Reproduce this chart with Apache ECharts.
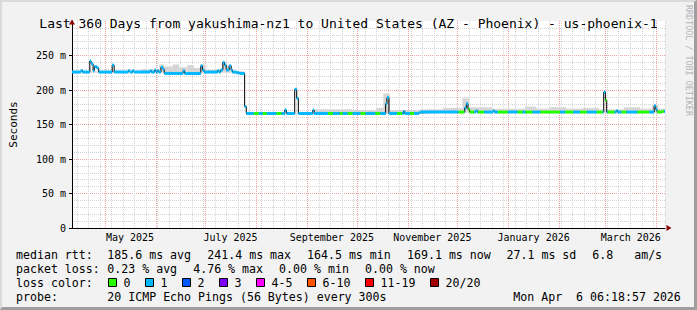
<!DOCTYPE html>
<html><head><meta charset="utf-8">
<script src="https://cdn.jsdelivr.net/npm/echarts@6/dist/echarts.min.js"></script>
<style>
html,body{margin:0;padding:0;background:#f2f2f2;}
#wrap{position:relative;width:697px;height:310px;overflow:hidden;}
#chart{position:absolute;left:0;top:0;width:697px;height:310px;}
#frame{position:absolute;left:0;top:0;width:697px;height:310px;box-sizing:border-box;border-top:2px solid #dadada;border-left:2px solid #dadada;border-right:3px solid #9e9e9e;border-bottom:3px solid #9e9e9e;pointer-events:none;}
</style></head>
<body><div id="wrap"><div id="chart"></div><div id="frame"></div></div>
<script>
// ---------------- data ----------------
const titleText = 'Last 360 Days from yakushima-nz1 to United States (AZ - Phoenix) - us-phoenix-1';
const startMs = Date.UTC(2025, 3, 11, 6, 18, 57);   // window start (360 days before end)
const spanDays = 360;

// median RTT (ms); each value holds from its day (days since window start) until the next
const medianDay = [0, 5.4, 6.4, 10.8, 11.6, 12.8, 13.6, 15.0, 16.2, 24.4, 25.6, 34.2, 35.2, 36.8, 37.6,
  47.4, 48.2, 50.2, 51.0, 51.8, 52.6, 54.0, 55.2, 56.0, 67.4, 68.4, 78.2, 79.2, 80.2, 88.4, 89.2, 90.2,
  91.6, 92.6, 93.6, 95.4, 96.6, 97.4, 99.8, 101.6, 104.8, 105.8, 129.2, 130.2, 135.2, 136.4, 137.4,
  146.2, 147.0, 190.4, 191.2, 192.4, 201.2, 202.0, 210.4, 211.4, 238.4, 239.4, 240.4, 241.4, 245.2,
  246.0, 255.6, 256.4, 322.8, 323.8, 324.6, 330.4, 331.2, 353.4, 354.4, 355.2, 358.0, 360];
const medianMs = [226, 228, 226, 242, 238, 228, 234, 232, 226, 236, 226, 228, 226, 228, 226,
  228, 226, 229, 226, 228, 226, 233, 230, 224, 228, 224, 235, 229, 226, 228, 226, 229,
  240, 236, 229, 235, 229, 226, 225, 224, 176, 166, 171, 166, 201, 188, 166,
  171, 166, 180, 189, 166, 169, 166, 167, 168, 174, 180, 172, 168, 170,
  168, 170, 168, 197, 185, 168, 170, 168, 177, 172, 168, 169, 169];

// stretches (days) where the median was drawn with 0 lost pings; the rest shows 1 lost ping
const zeroLossFrom = [110.4, 115.8, 124.2, 155.4, 162.6, 167.4, 175.2, 184.2, 197.4, 205.2, 234.6, 240.6,
  246.6, 258.6, 270.6, 275.4, 284.4, 299.4, 308.4, 318.6, 323.8, 325.2, 333.6, 343.2, 355.2];
const zeroLossTo = [113.4, 118.2, 127.2, 158.4, 164.4, 170.4, 178.2, 187.2, 200.4, 207.6, 238.2, 244.2,
  250.2, 264.6, 273.6, 279.6, 296.4, 304.2, 312.6, 322.2, 324.6, 329.4, 336.6, 350.4, 359.4];

// smoke (spread of the individual pings, ms); each band holds until the next day
const smokeDay  = [0, 42, 53, 56, 61, 65, 70, 74, 78, 81, 88, 91, 94, 97, 104.8, 105.8, 147, 170, 185, 189,
  193, 211, 225, 237, 241, 255, 275, 282, 290, 300, 310, 320, 335, 345, 352, 356, 360];
const smokeLow  = [225, 225, 225, 223, 223, 223, 223, 223, 225, 225, 225, 225, 225, 224, 175, 165, 165, 165, 165, 165,
  165, 167, 167, 167, 167, 167, 167, 167, 167, 167, 167, 167, 167, 167, 167, 167, 167];
const smokeHigh = [227, 230, 237, 234, 237, 233, 236, 232, 237, 229, 230, 241, 236, 227, 177, 167, 172, 171, 174, 195,
  171, 172, 174, 188, 175, 173, 176, 173, 175, 173, 174, 172, 175, 173, 178, 173, 173];

const monthStarts = ['2025-05-01', '2025-06-01', '2025-07-01', '2025-08-01', '2025-09-01', '2025-10-01',
  '2025-11-01', '2025-12-01', '2026-01-01', '2026-02-01', '2026-03-01', '2026-04-01'];
const monthLabelFrom = ['2025-05-01', '2025-07-01', '2025-09-01', '2025-11-01', '2026-01-01', '2026-03-01'];
const monthLabelTo   = ['2025-06-01', '2025-08-01', '2025-10-01', '2025-12-01', '2026-02-01', '2026-04-01'];
const monthLabels = ['May 2025', 'July 2025', 'September 2025', 'November 2025', 'January 2026', 'March 2026'];
const firstMonday = '2025-04-14';

const lossLabels = ['0', '1', '2', '3', '4-5', '6-10', '11-19', '20/20'];
const lossColors = ['#26ff00', '#00b8ff', '#0059ff', '#7e00ff', '#ff00ff', '#ff5500', '#ff0000', '#a10000'];

const rowRtt   = ['median rtt:', '185.6 ms avg', '241.4 ms max', '164.5 ms min', '169.1 ms now', '27.1 ms sd', '6.8   am/s'];
const rowLoss  = ['packet loss:', '0.23 % avg', '4.76 % max', '0.00 % min', '0.00 % now'];
const rowProbe = ['probe:', '20 ICMP Echo Pings (56 Bytes) every 300s', 'Mon Apr  6 06:18:57 2026'];

// ---------------- layout ----------------
const FONT = '"DejaVu Sans Mono", monospace';
const rttX = [16, 107.3, 207.3, 307, 407, 506.5, 592.3];
const lossX = [16, 107.3, 193.2, 279.1, 365];
const probeX = [16, 107.3, 513.3];
const boxX = [108.5, 145.5, 182.5, 219.5, 256.5, 307.5, 365.5, 430.5];
const rowY = [254.5, 268.5, 282.5, 296.5];

// ---------------- helpers ----------------
const dayOf = s => { const [y, m, d] = s.split('-').map(Number); return (Date.UTC(y, m - 1, d) - startMs) / 86400000; };
const medAt = d => { let v = medianMs[0]; for (let i = 0; i < medianDay.length; i++) { if (medianDay[i] <= d) v = medianMs[i]; else break; } return v; };

const labelDays = monthLabelFrom.map((s, i) => (dayOf(s) + dayOf(monthLabelTo[i])) / 2);
const gridData = [];
for (let d = dayOf(firstMonday); d < spanDays; d += 7) gridData.push([d, 0]);
monthStarts.forEach(s => gridData.push([dayOf(s), 1]));

const cuts = Array.from(new Set([...medianDay, ...zeroLossFrom, ...zeroLossTo])).sort((a, b) => a - b);
const pieces = [];
for (let i = 0; i < cuts.length - 1; i++) {
  const a = cuts[i], b = cuts[i + 1];
  const zero = zeroLossFrom.some((f, k) => a >= f && a < zeroLossTo[k]);
  pieces.push([a, b, medAt(a), zero ? 0 : 1]);
}
const smokeBands = [];
for (let i = 0; i < smokeDay.length - 1; i++) smokeBands.push([smokeDay[i], smokeDay[i + 1], smokeLow[i], smokeHigh[i]]);

const graphics = [];
const addText = (text, x, y, extra) => graphics.push(Object.assign({
  type: 'text', x: x, y: y, silent: true,
  style: { text: text, fill: '#000', fontSize: 11.6, fontFamily: FONT, verticalAlign: 'middle', align: 'left' }
}, extra || {}));
rowRtt.forEach((t, i) => addText(t, rttX[i], rowY[0]));
rowLoss.forEach((t, i) => addText(t, lossX[i], rowY[1]));
addText('loss color:', 16, rowY[2]);
lossLabels.forEach((t, i) => {
  graphics.push({ type: 'rect', silent: true, shape: { x: boxX[i], y: rowY[2] - 4, width: 8, height: 8 },
    style: { fill: lossColors[i], stroke: '#000', lineWidth: 1 } });
  addText(t, boxX[i] + 15, rowY[2]);
});
rowProbe.forEach((t, i) => addText(t, probeX[i], rowY[3]));
graphics.push({ type: 'text', x: 689, y: 5, rotation: -Math.PI / 2, silent: true,
  style: { text: 'RRDTOOL / TOBI OETIKER', fill: '#b4b4b4', fontSize: 8.4, fontFamily: FONT, verticalAlign: 'middle', align: 'left' } });

const chart = echarts.init(document.getElementById('chart'), null, { renderer: 'svg', width: 697, height: 310 });
chart.setOption({
  animation: false,
  backgroundColor: '#f2f2f2',
  title: { text: titleText, left: 'center', top: 12,
    textStyle: { fontFamily: FONT, fontSize: 13, fontWeight: 'normal', color: '#000' } },
  grid: { left: 65, right: 32, top: 21, bottom: 82, show: true, backgroundColor: '#ffffff', borderWidth: 0 },
  xAxis: {
    type: 'value', min: 0, max: spanDays,
    axisLine: { show: true, onZero: false, lineStyle: { color: '#000', width: 1 } },
    axisTick: { show: false },
    splitLine: { show: false },
    axisLabel: { customValues: labelDays, margin: 4, fontFamily: FONT, fontSize: 10, color: '#000',
      formatter: v => { const i = labelDays.findIndex(d => Math.abs(d - v) < 1e-6); return i >= 0 ? monthLabels[i] : ''; } }
  },
  yAxis: {
    type: 'value', min: 0, max: 300, interval: 50,
    name: 'Seconds', nameLocation: 'middle', nameGap: 53, nameRotate: 90,
    nameTextStyle: { fontFamily: FONT, fontSize: 11, color: '#000' },
    axisLine: { show: true, lineStyle: { color: '#000', width: 1 } },
    axisTick: { show: true, length: 3, lineStyle: { color: '#000' } },
    axisLabel: { formatter: v => v === 0 ? '0' : v + ' m', margin: 6, fontFamily: FONT, fontSize: 10, color: '#000', showMaxLabel: false },
    splitLine: { show: true, showMinLine: false, showMaxLine: false, lineStyle: { color: '#f0a0a0', type: [1, 1] } },
    minorTick: { show: false, splitNumber: 5 },
    minorSplitLine: { show: true, lineStyle: { color: '#d4d4d4', type: [1, 1] } }
  },
  series: [
    { type: 'custom', z: 1, silent: true, data: gridData, encode: { x: 0, y: 1 },
      renderItem: (params, api) => {
        const cs = params.coordSys;
        const x = Math.round(api.coord([api.value(0), 0])[0]) + 0.5;
        const major = api.value(1) === 1;
        return { type: 'line', shape: { x1: x, y1: cs.y, x2: x, y2: cs.y + cs.height },
          style: { stroke: major ? '#f0a0a0' : '#d4d4d4', lineWidth: 1, lineDash: [1, 1] } };
      } },
    { type: 'custom', name: 'smoke', z: 2, silent: true, data: smokeBands, encode: { x: [0, 1], y: [2, 3] },
      renderItem: (params, api) => {
        const a = api.coord([api.value(0), api.value(3)]);
        const b = api.coord([api.value(1), api.value(2)]);
        return { type: 'rect', shape: { x: a[0], y: a[1], width: b[0] - a[0], height: b[1] - a[1] },
          style: { fill: '#d6d6d6' } };
      } },
    { type: 'line', name: 'median', step: 'end', symbol: 'none', z: 3, silent: true,
      data: medianDay.map((d, i) => [d, medianMs[i]]), lineStyle: { color: '#000', width: 1 },
      markPoint: { silent: true, symbol: 'triangle', symbolSize: [6, 5], label: { show: false },
        itemStyle: { color: '#8b0000' },
        data: [ { coord: [0, 300], symbolOffset: [0, 1] }, { coord: [spanDays, 0], symbolRotate: -90, symbolOffset: [4, 0] } ] } },
    { type: 'custom', name: 'loss', z: 4, silent: true, data: pieces, encode: { x: [0, 1], y: 2 },
      renderItem: (params, api) => {
        const a = api.coord([api.value(0), api.value(2)]);
        const b = api.coord([api.value(1), api.value(2)]);
        return { type: 'rect', shape: { x: a[0], y: a[1] - 1.5, width: b[0] - a[0], height: 3 },
          style: { fill: lossColors[api.value(3)] } };
      } }
  ],
  graphic: graphics
});
</script></body></html>
